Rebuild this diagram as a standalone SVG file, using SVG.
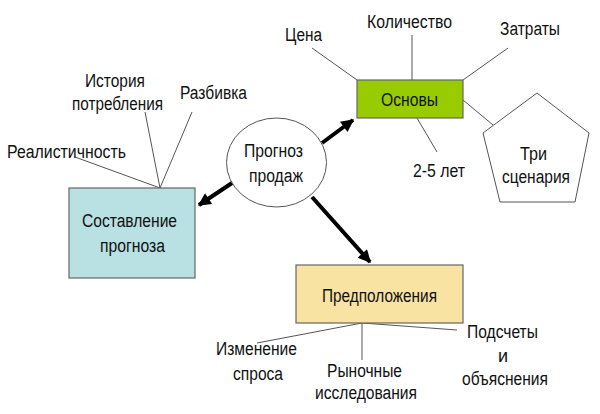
<svg xmlns="http://www.w3.org/2000/svg" width="600" height="414" viewBox="0 0 600 414">
<defs>
<marker id="ah" viewBox="0 0 10 10" refX="9" refY="5" markerWidth="3.6" markerHeight="3.2" orient="auto" markerUnits="strokeWidth">
<path d="M0,0 L10,5 L0,10 z" fill="#000"/>
</marker>
</defs>
<style>
text{font-family:"Liberation Sans",Arial,sans-serif;font-size:18px;fill:#111;text-anchor:middle}
.thin{stroke:#555;stroke-width:1;fill:none}
.arr{stroke:#000;stroke-width:4;fill:none;marker-end:url(#ah)}
.box{stroke:#666;stroke-width:1.2}
</style>
<rect width="600" height="414" fill="#fff"/>
<g id="connectors">
<line class="thin" x1="75" y1="157" x2="160" y2="188"/>
<line class="thin" x1="145" y1="112" x2="160" y2="188"/>
<line class="thin" x1="192" y1="112" x2="160" y2="188"/>
<line class="thin" x1="312" y1="48" x2="357" y2="80"/>
<line class="thin" x1="412" y1="35" x2="412" y2="80"/>
<line class="thin" x1="508" y1="48" x2="463" y2="80"/>
<line class="thin" x1="417" y1="118" x2="437" y2="152"/>
<line class="thin" x1="463" y1="100" x2="493" y2="125"/>
<line class="thin" x1="362" y1="323" x2="257" y2="343"/>
<line class="thin" x1="362" y1="323" x2="362" y2="360"/>
<line class="thin" x1="362" y1="323" x2="457" y2="330"/>
<line class="arr" x1="232" y1="183" x2="199" y2="205"/>
<line class="arr" x1="322" y1="143" x2="353" y2="120"/>
<line class="arr" x1="312" y1="197" x2="370" y2="262"/>
</g>
<g id="labels">
<text x="66.5" y="158" textLength="119" lengthAdjust="spacingAndGlyphs">Реалистичность</text>
<text x="115" y="87" textLength="60" lengthAdjust="spacingAndGlyphs">История</text>
<text x="117.5" y="110" textLength="91" lengthAdjust="spacingAndGlyphs">потребления</text>
<text x="213.5" y="99" textLength="67" lengthAdjust="spacingAndGlyphs">Разбивка</text>
<text x="303.5" y="41" textLength="37" lengthAdjust="spacingAndGlyphs">Цена</text>
<text x="409.5" y="28" textLength="85" lengthAdjust="spacingAndGlyphs">Количество</text>
<text x="530" y="35" textLength="60" lengthAdjust="spacingAndGlyphs">Затраты</text>
<text x="439" y="177" textLength="52" lengthAdjust="spacingAndGlyphs">2-5 лет</text>
<text x="256.5" y="355" textLength="81" lengthAdjust="spacingAndGlyphs">Изменение</text>
<text x="258" y="380" textLength="50" lengthAdjust="spacingAndGlyphs">спроса</text>
<text x="364.5" y="377" textLength="75" lengthAdjust="spacingAndGlyphs">Рыночные</text>
<text x="366" y="399" textLength="102" lengthAdjust="spacingAndGlyphs">исследования</text>
<text x="502.5" y="338" textLength="71" lengthAdjust="spacingAndGlyphs">Подсчеты</text>
<text x="503" y="362">и</text>
<text x="505" y="385" textLength="86" lengthAdjust="spacingAndGlyphs">объяснения</text>
</g>
<g id="forecast">
<rect class="box" x="69" y="188" width="126" height="90" fill="#b9e0e3"/>
<text x="129.5" y="227" textLength="95" lengthAdjust="spacingAndGlyphs">Составление</text>
<text x="132.5" y="252" textLength="65" lengthAdjust="spacingAndGlyphs">прогноза</text>
</g>
<g id="sales">
<ellipse cx="276.5" cy="162.5" rx="50" ry="44.5" fill="#fff" stroke="#555" stroke-width="1"/>
<text x="273.5" y="157" textLength="59" lengthAdjust="spacingAndGlyphs">Прогноз</text>
<text x="276" y="182" textLength="54" lengthAdjust="spacingAndGlyphs">продаж</text>
</g>
<g id="basics">
<rect class="box" x="357" y="80" width="106" height="38" fill="#99cc00"/>
<text x="409.5" y="106" textLength="57" lengthAdjust="spacingAndGlyphs">Основы</text>
</g>
<g id="scenarios">
<polygon points="537,93 589,133 575,202 500,202 483,133" fill="#fff" stroke="#555" stroke-width="1"/>
<text x="533.5" y="160" textLength="27" lengthAdjust="spacingAndGlyphs">Три</text>
<text x="536" y="183" textLength="68" lengthAdjust="spacingAndGlyphs">сценария</text>
</g>
<g id="assumptions">
<rect class="box" x="296" y="265" width="167" height="58" fill="#f8e3a3"/>
<text x="379.5" y="302" textLength="115" lengthAdjust="spacingAndGlyphs">Предположения</text>
</g>
</svg>
